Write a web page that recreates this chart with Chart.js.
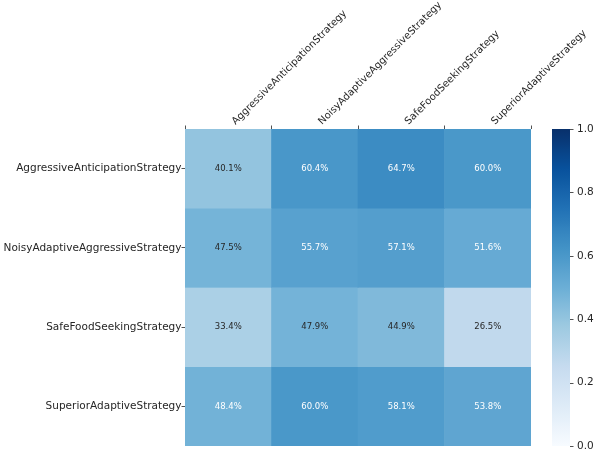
<!DOCTYPE html>
<html>
<head>
<meta charset="utf-8">
<script src="https://cdn.jsdelivr.net/npm/chart.js@4.4.1/dist/chart.umd.min.js"></script>
<style>
  html, body { margin: 0; padding: 0; background: #ffffff; }
  #wrap { width: 595px; height: 459px; position: relative; }
</style>
</head>
<body>
<div id="wrap"><canvas id="c" width="595" height="459"></canvas></div>
<script>
// ---- Data ----
const columns = ["AggressiveAnticipationStrategy", "NoisyAdaptiveAggressiveStrategy", "SafeFoodSeekingStrategy", "SuperiorAdaptiveStrategy"];
const rows = ["AggressiveAnticipationStrategy", "NoisyAdaptiveAggressiveStrategy", "SafeFoodSeekingStrategy", "SuperiorAdaptiveStrategy"];
const rowAggressiveAnticipation = [0.401, 0.604, 0.647, 0.600];
const rowNoisyAdaptiveAggressive = [0.475, 0.557, 0.571, 0.516];
const rowSafeFoodSeeking = [0.334, 0.479, 0.449, 0.265];
const rowSuperiorAdaptive = [0.484, 0.600, 0.581, 0.538];
const colorbarTicks = [0, 0.2, 0.4, 0.6, 0.8, 1.0];

const values = [rowAggressiveAnticipation, rowNoisyAdaptiveAggressive, rowSafeFoodSeeking, rowSuperiorAdaptive];

// ---- Blues colormap ----
const bluesStops = ["#f7fbff", "#deebf7", "#c6dbef", "#9ecae1", "#6baed6", "#4292c6", "#2171b5", "#08519c", "#08306b"];
function hexToRgb(h) { return [parseInt(h.substr(1,2),16), parseInt(h.substr(3,2),16), parseInt(h.substr(5,2),16)]; }
const bluesRgb = bluesStops.map(hexToRgb);
function blues(v) {
  v = Math.max(0, Math.min(1, v));
  const n = bluesRgb.length - 1;
  const p = v * n;
  const i = Math.min(n - 1, Math.floor(p));
  const t = p - i;
  const a = bluesRgb[i], b = bluesRgb[i + 1];
  const c = a.map((x, k) => Math.round(x + (b[k] - x) * t));
  return `rgb(${c[0]},${c[1]},${c[2]})`;
}

const FONT = "'DejaVu Sans', 'Liberation Sans', sans-serif";
const TEXT = "#262626";

const datasets = rows.map((r, i) => ({
  label: r,
  data: columns.map(() => [i, i + 1]),
  backgroundColor: values[i].map(v => blues(v)),
  borderWidth: 0,
  barPercentage: 1.0,
  categoryPercentage: 1.0,
  grouped: false,
  yAxisID: 'y'
}));

const annotatePlugin = {
  id: 'annotate',
  afterDatasetsDraw(chart) {
    const ctx = chart.ctx;
    const xs = chart.scales.x, ys = chart.scales.y;
    ctx.save();
    ctx.font = `8.5px ${FONT}`;
    ctx.textAlign = 'center';
    ctx.textBaseline = 'middle';
    values.forEach((row, i) => {
      row.forEach((v, j) => {
        const x = xs.getPixelForValue(j);
        const y = ys.getPixelForValue(i + 0.5);
        ctx.fillStyle = v > 0.482 ? '#ffffff' : TEXT;
        ctx.fillText((v * 100).toFixed(1) + '%', x, y);
      });
    });
    ctx.restore();
  }
};

const colorbarPlugin = {
  id: 'colorbar',
  afterDraw(chart) {
    const ctx = chart.ctx;
    const cb = chart.scales.cb;
    const x0 = 552, x1 = 570;
    const yTop = cb.getPixelForValue(1), yBot = cb.getPixelForValue(0);
    ctx.save();
    const g = ctx.createLinearGradient(0, yBot, 0, yTop);
    for (let k = 0; k <= 64; k++) {
      g.addColorStop(k / 64, blues(k / 64));
    }
    ctx.fillStyle = g;
    ctx.fillRect(x0, yTop, x1 - x0, yBot - yTop);
    ctx.strokeStyle = TEXT;
    ctx.lineWidth = 0.8;
    colorbarTicks.forEach(t => {
      const y = Math.round(cb.getPixelForValue(t)) + 0.5;
      ctx.beginPath();
      ctx.moveTo(x1, y);
      ctx.lineTo(x1 + 3.5, y);
      ctx.stroke();
    });
    ctx.restore();
  }
};

new Chart(document.getElementById('c'), {
  type: 'bar',
  data: { labels: columns, datasets },
  options: {
    responsive: false,
    animation: false,
    devicePixelRatio: 1,
    layout: { padding: { top: 0, bottom: 13, left: 0, right: 0 } },
    plugins: { legend: { display: false }, tooltip: { enabled: false } },
    scales: {
      x: {
        type: 'category',
        position: 'top',
        offset: true,
        grid: { display: true, drawOnChartArea: false, drawTicks: true, tickLength: 3.5, color: TEXT, lineWidth: 0.8 },
        border: { display: false },
        ticks: { color: TEXT, font: { family: FONT, size: 10 }, minRotation: 45, maxRotation: 45, padding: -2, labelOffset: 14, autoSkip: false },
        afterFit(s) { s.height = 129; }
      },
      y: {
        type: 'linear',
        position: 'left',
        min: 0, max: 4,
        reverse: true,
        grid: { display: true, drawOnChartArea: false, drawTicks: true, tickLength: 3.5, color: TEXT, lineWidth: 0.8 },
        border: { display: false },
        afterBuildTicks(s) { s.ticks = rows.map((r, i) => ({ value: i + 0.5 })); },
        ticks: {
          color: TEXT, font: { family: FONT, size: 10.5 }, padding: 0, autoSkip: false,
          callback(v) { return rows[Math.floor(v)]; }
        },
        afterFit(s) { s.width = 185; }
      },
      cb: {
        type: 'linear',
        position: 'right',
        min: 0, max: 1,
        grid: { display: true, drawOnChartArea: false, drawTicks: true, tickLength: 43, color: 'rgba(0,0,0,0)' },
        border: { display: false },
        afterBuildTicks(s) { s.ticks = colorbarTicks.map(v => ({ value: v })); },
        ticks: {
          color: TEXT, font: { family: FONT, size: 10.5 }, padding: 3,
          callback(v) { return Number(v).toFixed(1); }
        },
        afterFit(s) { s.width = 64; }
      }
    }
  },
  plugins: [annotatePlugin, colorbarPlugin]
});
</script>
</body>
</html>
